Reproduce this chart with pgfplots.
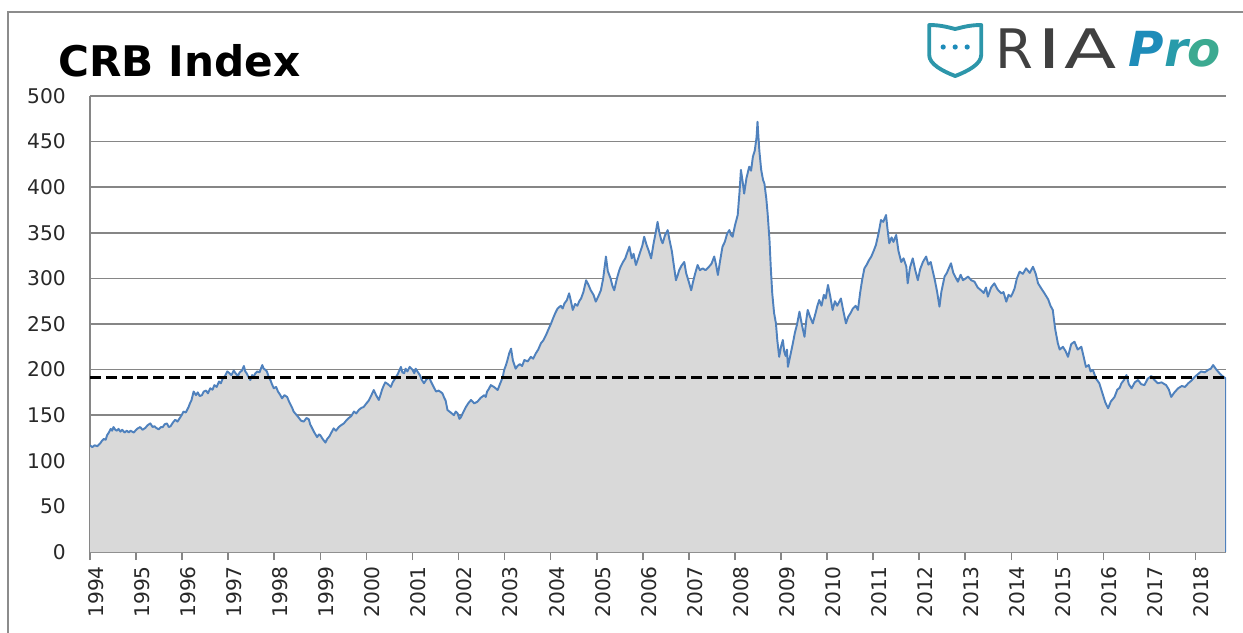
\documentclass[border=0pt]{standalone}
\usepackage{pgfplots}
\pgfplotsset{compat=1.18}
\usepackage{pgfplotstable}
\usepackage{graphicx}
\usepackage{fontspec}
\setmainfont{DejaVu Sans}

\definecolor{crbline}{RGB}{79,129,189}
\definecolor{crbfill}{RGB}{217,217,217}
\definecolor{gridgray}{RGB}{134,134,134}
\definecolor{framegray}{RGB}{140,140,140}
\definecolor{ticktext}{RGB}{40,40,40}
\definecolor{riagray}{RGB}{64,64,64}
\definecolor{shield}{RGB}{45,150,170}
\definecolor{proA}{RGB}{30,140,185}
\definecolor{proB}{RGB}{40,155,170}
\definecolor{proC}{RGB}{60,170,145}

% CRB index (year, level)
\pgfplotstableread{
year value
1994.00 117
1994.05 115
1994.10 117
1994.16 116
1994.22 119
1994.26 122
1994.30 124
1994.34 123
1994.37 128
1994.41 131
1994.45 135
1994.48 133
1994.51 137
1994.55 134
1994.58 133
1994.62 135
1994.66 132
1994.70 134
1994.75 131
1994.80 133
1994.84 131
1994.88 133
1994.95 131
1995.02 135
1995.09 137
1995.14 134
1995.20 136
1995.25 139
1995.31 141
1995.36 137
1995.40 138
1995.44 136
1995.49 134.5
1995.54 137
1995.58 137
1995.62 140
1995.67 141
1995.71 137
1995.75 138
1995.80 142
1995.85 145
1995.90 143
1995.95 147
1996.00 151
1996.03 154
1996.08 153
1996.14 159
1996.17 163
1996.20 166
1996.25 176
1996.30 172
1996.34 175
1996.38 171
1996.43 172
1996.47 176
1996.52 177
1996.56 174
1996.61 179.5
1996.66 178
1996.70 183
1996.75 181
1996.80 187
1996.84 185
1996.88 190
1996.93 193
1996.98 198
1997.03 196
1997.07 194
1997.12 199
1997.16 196
1997.21 193
1997.25 197
1997.30 199
1997.34 204
1997.37 198
1997.40 196
1997.44 192
1997.48 188.6
1997.52 194
1997.55 192
1997.59 196
1997.63 198
1997.68 197
1997.74 205
1997.77 201
1997.80 200
1997.84 198
1997.88 192
1997.92 188
1997.95 184
1997.99 179.5
1998.04 181
1998.08 176
1998.12 173
1998.17 168.5
1998.22 172
1998.28 170
1998.32 165
1998.35 162
1998.39 158
1998.42 154
1998.47 151
1998.52 148
1998.58 144
1998.64 143
1998.70 147
1998.75 145.5
1998.78 140
1998.82 136
1998.87 131
1998.93 126
1998.97 129
1999.00 128
1999.05 124
1999.11 120
1999.15 124
1999.20 127
1999.24 131
1999.29 135.6
1999.34 133
1999.40 137
1999.45 139
1999.51 141
1999.56 144
1999.62 147
1999.67 149
1999.73 154
1999.78 152
1999.84 156
1999.89 158
1999.94 159
2000.00 163
2000.05 166
2000.10 171
2000.16 177.6
2000.21 172
2000.27 166.7
2000.31 173
2000.34 178
2000.38 183
2000.41 186
2000.47 184
2000.53 181
2000.57 186
2000.62 190
2000.68 195
2000.75 203
2000.78 197
2000.82 196
2000.85 201
2000.89 198
2000.94 203
2001.00 200
2001.04 196
2001.07 201
2001.12 197
2001.16 194
2001.20 189
2001.25 185
2001.30 189
2001.36 192
2001.40 187
2001.44 183
2001.48 179
2001.51 176
2001.57 177
2001.65 174
2001.69 169
2001.72 166
2001.76 155.7
2001.83 153
2001.90 150
2001.94 154
2001.98 152
2002.02 146
2002.05 147.7
2002.10 153
2002.16 159
2002.21 163
2002.27 166.7
2002.34 163
2002.41 164.8
2002.48 169
2002.56 172
2002.59 170
2002.62 176
2002.66 179
2002.70 183
2002.77 181
2002.85 177.6
2002.89 183
2002.93 188
2002.96 192
2002.99 199.6
2003.03 205
2003.06 210
2003.10 218
2003.14 223
2003.18 210
2003.24 201
2003.28 204
2003.33 206
2003.38 204
2003.43 210.5
2003.50 209
2003.57 214
2003.62 212
2003.68 218
2003.73 222
2003.79 229
2003.84 232
2003.90 238
2003.95 244
2004.01 250.7
2004.05 256
2004.10 262
2004.15 267
2004.22 270
2004.26 267
2004.30 272.7
2004.35 276
2004.40 283.6
2004.44 275
2004.48 265.4
2004.53 272
2004.58 270
2004.62 275
2004.66 278
2004.71 285
2004.77 298
2004.82 293
2004.87 287
2004.93 282
2004.98 274.5
2005.04 281
2005.09 287
2005.14 300
2005.20 324
2005.24 308
2005.30 300
2005.34 292
2005.38 287
2005.42 296
2005.45 302
2005.49 309
2005.52 313
2005.57 318
2005.62 322
2005.66 328
2005.71 334.8
2005.76 322
2005.80 327
2005.85 314.7
2005.90 322
2005.95 330
2005.99 336
2006.03 345.7
2006.08 337
2006.13 330
2006.18 322
2006.24 340
2006.28 350
2006.32 362
2006.36 350
2006.40 342
2006.43 338.5
2006.48 347
2006.54 353
2006.58 342
2006.63 330
2006.68 312
2006.72 298
2006.76 304
2006.79 309
2006.84 314
2006.90 318
2006.94 306
2007.00 296
2007.05 287
2007.09 296
2007.14 306
2007.19 314.7
2007.24 309
2007.30 311
2007.36 309
2007.44 313
2007.49 316
2007.55 324
2007.59 315
2007.63 303.7
2007.68 320
2007.73 334.8
2007.78 340
2007.83 349
2007.88 353
2007.91 348
2007.95 345.7
2008.00 358
2008.06 369.5
2008.10 395
2008.13 419
2008.17 405
2008.20 393
2008.25 410
2008.31 422.5
2008.35 418
2008.39 433.5
2008.43 440
2008.47 455
2008.49 471.8
2008.51 455
2008.53 440
2008.57 419
2008.61 408
2008.64 404
2008.68 388
2008.71 371
2008.75 342
2008.78 310
2008.81 283.6
2008.85 262
2008.89 250.7
2008.92 232
2008.96 214
2009.00 225
2009.04 232.5
2009.07 220
2009.10 215
2009.13 222
2009.15 203
2009.20 215
2009.25 227
2009.30 240
2009.35 250
2009.40 263.5
2009.45 250
2009.51 236
2009.55 255
2009.58 265.4
2009.63 258
2009.69 250.7
2009.75 262
2009.79 270
2009.83 276.3
2009.88 270
2009.93 282
2009.97 278
2010.02 292.8
2010.07 280
2010.12 265.4
2010.17 275
2010.22 270
2010.30 278
2010.35 265
2010.41 250.7
2010.46 258
2010.51 262
2010.56 267
2010.62 270
2010.67 265.4
2010.72 285
2010.76 298
2010.81 311
2010.86 315
2010.91 320
2010.96 324
2011.01 330
2011.06 336.6
2011.12 350
2011.17 364
2011.22 362
2011.28 369.5
2011.31 355
2011.35 338.5
2011.40 345
2011.44 340
2011.50 347.6
2011.55 330
2011.61 318
2011.66 322
2011.72 313
2011.75 294.6
2011.80 312
2011.86 322
2011.91 310
2011.97 298
2012.02 310
2012.08 318
2012.15 324
2012.20 315
2012.25 318
2012.29 309
2012.34 298
2012.39 285
2012.44 269
2012.48 285
2012.55 302
2012.60 306
2012.65 312
2012.69 316.6
2012.74 306
2012.80 300
2012.84 296.4
2012.90 304
2012.95 298
2013.01 300
2013.06 302
2013.13 298
2013.20 296.4
2013.27 290
2013.34 287
2013.40 284
2013.45 290
2013.49 280
2013.56 290
2013.63 294.6
2013.70 288
2013.78 283.6
2013.83 285
2013.89 274.5
2013.94 282
2013.99 280
2014.03 284
2014.07 289
2014.12 300
2014.18 307.4
2014.25 305
2014.32 311
2014.40 306
2014.47 312.8
2014.53 305
2014.58 294.6
2014.65 289
2014.72 283.6
2014.80 277
2014.85 270
2014.90 265.4
2014.95 245
2015.01 228.8
2015.05 222
2015.12 225
2015.18 220
2015.23 214
2015.30 228
2015.37 230.6
2015.44 222
2015.52 225
2015.57 214
2015.62 203
2015.68 205
2015.72 198
2015.77 199.6
2015.84 190
2015.91 185
2015.99 172
2016.04 164
2016.10 157.6
2016.16 165
2016.24 170
2016.30 178
2016.35 180
2016.39 185
2016.45 189
2016.50 194
2016.55 184
2016.61 179.5
2016.68 186
2016.75 188.6
2016.82 184
2016.89 183
2016.96 190
2017.04 193
2017.10 189
2017.18 185
2017.26 186
2017.36 183
2017.42 178
2017.47 170
2017.54 175
2017.62 179.5
2017.70 182
2017.77 181
2017.84 185
2017.91 188
2017.98 192
2018.05 195
2018.12 198
2018.20 197
2018.27 199.6
2018.33 201
2018.38 205
2018.45 200
2018.52 196
2018.58 193
2018.65 190.5
}\crbdata

\begin{document}
\begin{tikzpicture}
\useasboundingbox (0,0) rectangle (24.86,12.64);

% frame, title and logo in pixel units of the reference
\begin{scope}[x=0.02cm, y=-0.02cm, shift={(0,12.64cm)}]
\draw[framegray, line width=1.1pt] (8,640) -- (8,12) -- (1250,12);
\node[anchor=base west, inner sep=0pt, font=\fontsize{24}{27}\selectfont\bfseries] at (58,76) {CRB Index};
% shield
\draw[shield, line width=2.2pt, line join=round]
  (929,25) .. controls (942,25) and (950,28) .. (955,29)
  .. controls (960,28) and (968,25) .. (981,25)
  -- (981,55) .. controls (981,64) and (968,71) .. (955,76)
  .. controls (942,71) and (929,64) .. (929,55) -- cycle;
\fill[proA] (943,47) circle (2.6) (955,47) circle (2.6) (967,47) circle (2.6);
% RIA Pro
\node[anchor=base, inner sep=0pt, text=riagray, font=\fontsize{31}{34}\selectfont] at (1014,68) {R};
\node[anchor=base, inner sep=0pt, text=riagray, font=\fontsize{31}{34}\selectfont] at (1049,68) {\scalebox{1.5}[1]{I}};
\node[anchor=base, inner sep=0pt, text=riagray, font=\fontsize{31}{34}\selectfont] at (1090,68) {\scalebox{1.4}[1]{A}};
\node[anchor=base west, inner sep=0pt, font=\fontsize{27.5}{30}\selectfont\bfseries\itshape] at (1128,66)
  {\textcolor{proA}{P}\textcolor{proB}{r}\textcolor{proC}{o}};
\end{scope}

\begin{axis}[
  at={(1.8cm,1.6cm)}, anchor=south west,
  scale only axis, width=22.72cm, height=9.12cm,
  xmin=1994, xmax=2018.66, ymin=0, ymax=500,
  xtick={1994,1995,...,2018}, ytick={0,50,...,500},
  axis x line*=bottom, axis y line*=left,
  axis line style={gridgray, line width=0.9pt},
  ymajorgrids, grid style={gridgray, line width=0.9pt},
  xtick style={gridgray, line width=0.9pt},
  ytick style={draw=none},
  tick align=outside, major tick length=0.16cm,
  ticklabel style={font=\fontsize{11.5}{13}\selectfont, text=ticktext},
  xticklabel style={rotate=90, anchor=east, yshift=-0.12cm},
  yticklabel style={xshift=-0.2cm},
  /pgf/number format/1000 sep={},
  /pgf/number format/assume math mode=true,
]
\addplot[fill=crbfill, draw=none] table[x=year, y=value] {\crbdata} \closedcycle;
\addplot[crbline, line width=1.1pt, line join=round] table[x=year, y=value] {\crbdata};
\addplot[crbline, line width=1.1pt] coordinates {(2018.65,190.5) (2018.65,0)};
\addplot[black, line width=1.7pt, dash pattern=on 6.2pt off 2.8pt] coordinates {(1994,191) (2018.66,191)};
\end{axis}
\end{tikzpicture}
\end{document}
